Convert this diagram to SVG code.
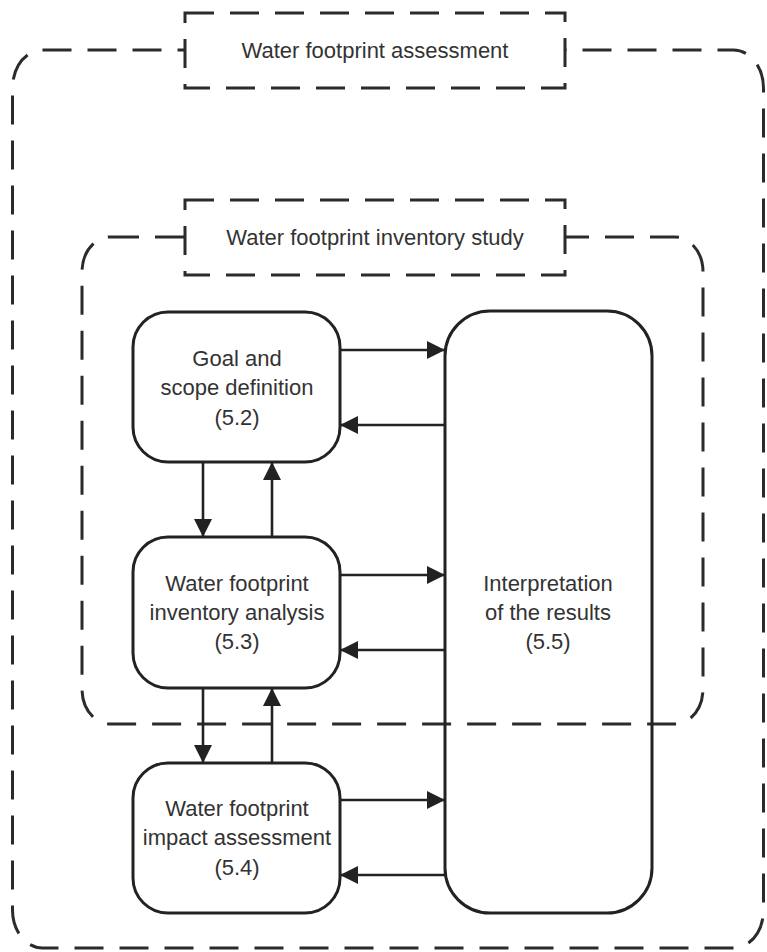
<svg xmlns="http://www.w3.org/2000/svg" width="767" height="952" viewBox="0 0 767 952">
  <style>
    .dash { fill: none; stroke: #2b2b2b; stroke-width: 3; stroke-dasharray: 29 16; }
    .title { fill: #ffffff; stroke: #2b2b2b; stroke-width: 3; stroke-dasharray: 29 16; }
    .node { fill: none; stroke: #222222; stroke-width: 3; }
    .lbl { font-family: "Liberation Sans", Arial, sans-serif; font-size: 22px; fill: #333333; text-anchor: middle; }
    .conn { stroke: #222222; stroke-width: 2.6; fill: none; marker-end: url(#arrow); }
  </style>
  <defs>
    <marker id="arrow" markerUnits="userSpaceOnUse" markerWidth="18" markerHeight="18" refX="17" refY="9" orient="auto">
      <path d="M0,0 L18,9 L0,18 Z" fill="#222222"/>
    </marker>
  </defs>
  <rect width="767" height="952" fill="#ffffff"/>

  <g id="assessment">
    <rect class="dash" x="12.5" y="50" width="751" height="898" rx="30" ry="38"/>
    <rect class="title" x="185" y="13" width="380" height="75"/>
    <text class="lbl" x="375" y="58">Water footprint assessment</text>
  </g>

  <g id="inventory-study">
    <rect class="dash" x="82" y="237" width="621" height="487" rx="28" ry="35"/>
    <rect class="title" x="185" y="200" width="380" height="75"/>
    <text class="lbl" x="375" y="245">Water footprint inventory study</text>
  </g>

  <g id="goal">
    <rect class="node" x="133" y="312" width="207" height="150" rx="35" ry="35"/>
    <text class="lbl" x="237" y="366">Goal and</text>
    <text class="lbl" x="237" y="395">scope definition</text>
    <text class="lbl" x="237" y="425">(5.2)</text>
  </g>

  <g id="inventory-analysis">
    <rect class="node" x="133" y="537" width="207" height="151" rx="35" ry="35"/>
    <text class="lbl" x="237" y="591">Water footprint</text>
    <text class="lbl" x="237" y="620">inventory analysis</text>
    <text class="lbl" x="237" y="649">(5.3)</text>
  </g>

  <g id="impact">
    <rect class="node" x="133" y="763" width="207" height="150" rx="35" ry="35"/>
    <text class="lbl" x="237" y="816">Water footprint</text>
    <text class="lbl" x="237" y="845">impact assessment</text>
    <text class="lbl" x="237" y="875">(5.4)</text>
  </g>

  <g id="interpretation">
    <rect class="node" x="445" y="311" width="207" height="602" rx="45" ry="45"/>
    <text class="lbl" x="548" y="591">Interpretation</text>
    <text class="lbl" x="548" y="620">of the results</text>
    <text class="lbl" x="548" y="649">(5.5)</text>
  </g>

  <g id="connectors">
    <line class="conn" x1="340" y1="350" x2="444" y2="350"/>
    <line class="conn" x1="445" y1="425" x2="341" y2="425"/>
    <line class="conn" x1="340" y1="575" x2="444" y2="575"/>
    <line class="conn" x1="445" y1="650" x2="341" y2="650"/>
    <line class="conn" x1="340" y1="800" x2="444" y2="800"/>
    <line class="conn" x1="445" y1="875" x2="341" y2="875"/>
    <line class="conn" x1="203" y1="462" x2="203" y2="536"/>
    <line class="conn" x1="272" y1="537" x2="272" y2="463"/>
    <line class="conn" x1="203" y1="688" x2="203" y2="762"/>
    <line class="conn" x1="272" y1="763" x2="272" y2="689"/>
  </g>
</svg>
